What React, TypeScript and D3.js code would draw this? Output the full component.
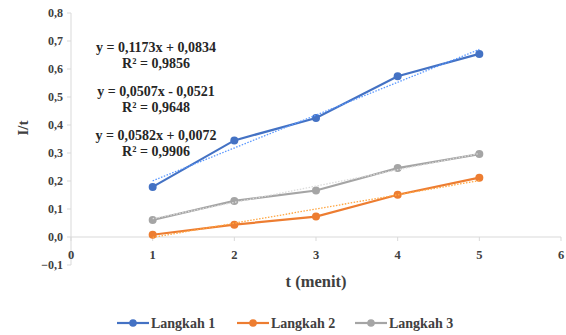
import React, { useEffect, useRef } from "react";
import * as d3 from "d3";

// data
const times = [1, 2, 3, 4, 5];
const langkah1 = [0.179, 0.345, 0.425, 0.574, 0.654];
const langkah2 = [0.008, 0.044, 0.073, 0.151, 0.212];
const langkah3 = [0.061, 0.129, 0.166, 0.246, 0.296];
const seriesNames = ["Langkah 1", "Langkah 2", "Langkah 3"];
const seriesColors = ["#4472C4", "#ED7D31", "#A5A5A5"];
const trendSlopes = [0.1173, 0.0507, 0.0582];
const trendIntercepts = [0.0834, -0.0521, 0.0072];
const equations = [
  ["y = 0,1173x + 0,0834", "R² = 0,9856"],
  ["y = 0,0507x - 0,0521", "R² = 0,9648"],
  ["y = 0,0582x + 0,0072", "R² = 0,9906"],
];
const yTicks = [-0.1, 0, 0.1, 0.2, 0.3, 0.4, 0.5, 0.6, 0.7, 0.8];
const xTicks = [0, 1, 2, 3, 4, 5, 6];

const W = 566;
const H = 335;
const FONT = '"Liberation Serif", "DejaVu Serif", serif';

export default function App() {
  const ref = useRef<SVGSVGElement>(null);

  useEffect(() => {
    const svg = d3.select(ref.current);
    svg.selectAll("*").remove();

    const x = d3.scaleLinear().domain([0, 6]).range([71, 561]);
    const y = d3.scaleLinear().domain([-0.1, 0.8]).range([265, 13]);
    const fmt = (v: number) => d3.format(".1f")(v).replace(".", ",");

    const txt = (sel: any, size: number, fill = "#404040") =>
      sel.style("font-family", FONT).style("font-weight", "bold")
        .style("font-size", size + "px").attr("fill", fill);

    // y axis
    svg.append("line")
      .attr("x1", x(0)).attr("x2", x(0))
      .attr("y1", y(0.8)).attr("y2", y(-0.1))
      .attr("stroke", "#d9d9d9");
    yTicks.forEach((t) => {
      svg.append("line")
        .attr("x1", x(0) - 4).attr("x2", x(0))
        .attr("y1", y(t)).attr("y2", y(t))
        .attr("stroke", "#d9d9d9");
      txt(svg.append("text")
        .attr("x", x(0) - 8).attr("y", y(t) + 4)
        .attr("text-anchor", "end"), 12)
        .text(fmt(t));
    });

    // x axis at y = 0
    svg.append("line")
      .attr("x1", x(0)).attr("x2", x(6))
      .attr("y1", y(0)).attr("y2", y(0))
      .attr("stroke", "#d9d9d9").attr("stroke-width", 1.2);
    xTicks.forEach((t) => {
      svg.append("line")
        .attr("x1", x(t)).attr("x2", x(t))
        .attr("y1", y(0)).attr("y2", y(0) + 4)
        .attr("stroke", "#d9d9d9");
      txt(svg.append("text")
        .attr("x", x(t)).attr("y", y(0) + 22)
        .attr("text-anchor", "middle"), 12.5)
        .text(t);
    });

    txt(svg.append("text")
      .attr("x", (x(0) + x(6)) / 2 + 0).attr("y", 287)
      .attr("text-anchor", "middle"), 16.5)
      .text("t (menit)");

    txt(svg.append("text")
      .attr("transform", "translate(28,128) rotate(-90)")
      .attr("text-anchor", "middle"), 15)
      .text("I/t");

    const allSeries = [langkah1, langkah2, langkah3];
    const line = d3.line<[number, number]>().x((d) => x(d[0])).y((d) => y(d[1]));

    // series lines and markers
    allSeries.forEach((vals, i) => {
      const pts = times.map((t, j) => [t, vals[j]] as [number, number]);
      svg.append("path")
        .attr("d", line(pts))
        .attr("fill", "none")
        .attr("stroke", seriesColors[i])
        .attr("stroke-width", 2.2);
      svg.selectAll(null)
        .data(pts)
        .enter()
        .append("circle")
        .attr("cx", (d) => x(d[0]))
        .attr("cy", (d) => y(d[1]))
        .attr("r", 4)
        .attr("fill", seriesColors[i]);
    });

    // linear trendlines (dotted)
    allSeries.forEach((_, i) => {
      const pts = [1, 5].map((t) => [t, trendSlopes[i] * t + trendIntercepts[i]] as [number, number]);
      svg.append("path")
        .attr("d", line(pts))
        .attr("fill", "none")
        .attr("stroke", d3.color(seriesColors[i])!.brighter(0.8).formatHex())
        .attr("stroke-width", 1.3)
        .attr("stroke-dasharray", "1.5,1.5");
    });

    // equations
    const eqY = [47, 91, 135];
    equations.forEach((lines, i) => {
      lines.forEach((s, k) => {
        txt(svg.append("text")
          .attr("x", 156).attr("y", eqY[i] + k * 16 + 5)
          .attr("text-anchor", "middle"), 14, "#262626")
          .text(s);
      });
    });

    // legend
    const legX = [117, 237, 355];
    seriesNames.forEach((name, i) => {
      const g = svg.append("g").attr("transform", `translate(${legX[i]},323)`);
      g.append("line")
        .attr("x1", 0).attr("x2", 32).attr("y1", 0).attr("y2", 0)
        .attr("stroke", seriesColors[i]).attr("stroke-width", 2.2);
      g.append("circle").attr("cx", 16).attr("cy", 0).attr("r", 3.8).attr("fill", seriesColors[i]);
      txt(g.append("text")
        .attr("x", 34).attr("y", 5), 14)
        .text(name);
    });
  }, []);

  return (
    <svg
      ref={ref}
      width={W}
      height={H}
      style={{ position: "absolute", left: 0, top: 0, background: "#fff" }}
    />
  );
}
